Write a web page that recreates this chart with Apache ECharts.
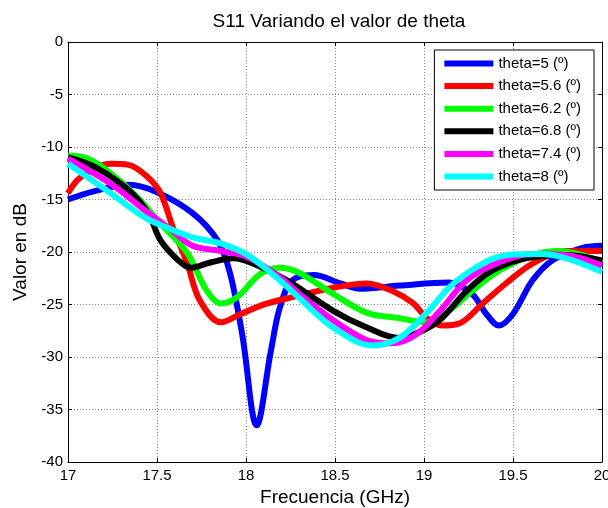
<!DOCTYPE html>
<html><head><meta charset="utf-8">
<script src="https://cdn.jsdelivr.net/npm/echarts@6/dist/echarts.min.js"></script>
<style>html,body{margin:0;padding:0;background:#fff}#c{width:608px;height:508px}</style>
</head><body><div id="c"></div>
<script>
var seriesNames = ['theta=5 (º)','theta=5.6 (º)','theta=6.2 (º)','theta=6.8 (º)','theta=7.4 (º)','theta=8 (º)'];
var seriesColors = ['#0000ff','#ff0000','#00ff00','#000000','#ff00ff','#00ffff'];

var freq5 = [17.0,17.15,17.34,17.5,17.7,17.84,17.91,17.98,18.06,18.14,18.19,18.26,18.38,18.53,18.64,18.86,19.14,19.27,19.35,19.42,19.5,19.61,19.72,19.89,20.0];
var s11_5 = [-15,-14.2,-13.6,-14.3,-16.3,-18.9,-22,-28,-36.5,-29.4,-25.3,-22.7,-22.2,-23.0,-23.5,-23.2,-22.9,-24.0,-25.9,-27.0,-25.9,-22.7,-20.8,-19.6,-19.4];

var freq56 = [17.0,17.07,17.24,17.34,17.45,17.52,17.59,17.67,17.74,17.86,17.97,18.12,18.26,18.49,18.68,18.82,18.94,19.01,19.1,19.2,19.33,19.46,19.61,19.8,20.0];
var s11_56 = [-14.4,-12.9,-11.6,-11.7,-12.9,-14.4,-17.7,-21.1,-24.6,-26.7,-25.9,-24.9,-24.3,-23.4,-23.0,-23.7,-24.9,-26.2,-27.0,-26.8,-24.9,-23.0,-21.1,-19.9,-19.9];

var freq62 = [17.0,17.11,17.24,17.39,17.52,17.67,17.78,17.86,17.95,18.08,18.19,18.3,18.49,18.68,18.86,19.01,19.14,19.27,19.42,19.61,19.76,19.89,20.0];
var s11_62 = [-10.8,-11.1,-12.5,-14.8,-17.3,-20.1,-23.7,-24.9,-24.3,-22.1,-21.5,-22.0,-24.0,-25.8,-26.3,-26.7,-25.6,-23.7,-21.8,-20.3,-19.9,-20.3,-21.0];

var freq68 = [17.0,17.15,17.34,17.45,17.52,17.62,17.69,17.8,17.93,18.04,18.23,18.49,18.68,18.86,18.99,19.1,19.24,19.38,19.57,19.8,20.0];
var s11_68 = [-11.0,-11.9,-14.1,-16.3,-18.9,-20.8,-21.5,-21.0,-20.6,-21.1,-22.7,-25.6,-27.2,-28.2,-27.5,-26.3,-23.7,-21.8,-20.6,-20.3,-20.8];

var freq74 = [17.0,17.24,17.43,17.58,17.7,17.86,18.01,18.19,18.3,18.49,18.68,18.82,18.96,19.09,19.24,19.42,19.61,19.8,20.0];
var s11_74 = [-11.1,-13.5,-16.0,-17.9,-19.4,-19.9,-20.5,-22.4,-24.0,-26.5,-28.4,-28.7,-27.8,-25.6,-22.7,-21.0,-20.2,-20.3,-21.3];

var freq8 = [17.0,17.24,17.43,17.56,17.7,17.86,18.01,18.19,18.3,18.49,18.71,18.86,19.01,19.14,19.29,19.46,19.65,19.8,20.0];
var s11_8 = [-11.6,-14.4,-16.7,-17.7,-18.6,-19.2,-20.3,-22.7,-24.4,-27.2,-28.9,-28.2,-25.9,-23.4,-21.5,-20.3,-20.2,-20.6,-21.9];

var freqs = [freq5,freq56,freq62,freq68,freq74,freq8];
var vals = [s11_5,s11_56,s11_62,s11_68,s11_74,s11_8];

var FONT = 'Liberation Sans, Arial, sans-serif';
var chart = echarts.init(document.getElementById('c'), null, {renderer:'canvas'});

var series = seriesNames.map(function(n,i){
  return {
    name: n, type: 'line', smooth: 0.35, showSymbol: false, symbol: 'none',
    xAxisIndex: 0, yAxisIndex: 0,
    data: freqs[i].map(function(f,j){ return [f, vals[i][j]]; }),
    lineStyle: {color: seriesColors[i], width: 6},
    itemStyle: {color: seriesColors[i]},
    z: 2 + i, animation: false
  };
});

var gridLine = {show:true, lineStyle:{color:'#888', type:[1,2], width:1}};
var axLine = {show:true, onZero:false, lineStyle:{color:'#000', width:1}};
var tick = {show:true, inside:true, length:4, lineStyle:{color:'#000'}};

chart.setOption({
  backgroundColor: '#fff',
  animation: false,
  title: {text: 'S11 Variando el valor de theta', left: 334, top: 7, textAlign: 'center',
    textStyle: {fontFamily: FONT, fontSize: 19, fontWeight: 'normal', color: '#000'}},
  grid: {left: 68, right: 6, top: 42, bottom: 46, containLabel: false, outerBoundsMode: 'none'},
  legend: {
    right: 14, top: 50, orient: 'vertical',
    backgroundColor: '#fff', borderColor: '#000', borderWidth: 1,
    padding: [6, 13, 6, 10], itemGap: 7.6,
    itemWidth: 49, itemHeight: 6, icon: 'rect',
    textStyle: {fontFamily: FONT, fontSize: 15, color: '#000', lineHeight: 15},
    data: seriesNames.map(function(n,i){ return {name:n, itemStyle:{color:seriesColors[i]}}; })
  },
  xAxis: [
    {type:'value', min:17, max:20, interval:0.5, position:'bottom',
     name:'Frecuencia (GHz)', nameLocation:'middle', nameGap: 20,
     nameTextStyle:{fontFamily:FONT, fontSize:19, color:'#000'},
     axisLine: axLine, axisTick: tick,
     axisLabel:{fontFamily:FONT, fontSize:15, color:'#000', margin:6, showMaxLabel:true, showMinLabel:true,
       formatter:function(v){return String(Math.round(v*10)/10);}},
     splitLine: gridLine},
    {type:'value', min:17, max:20, interval:0.5, position:'top',
     axisLine: axLine, axisTick: tick,
     axisLabel:{show:false}, splitLine:{show:false}}
  ],
  yAxis: [
    {type:'value', min:-40, max:0, interval:5, position:'left',
     name:'Valor en dB', nameLocation:'middle', nameGap: 33, nameRotate: 90,
     nameTextStyle:{fontFamily:FONT, fontSize:19, color:'#000'},
     axisLine: axLine, axisTick: tick,
     axisLabel:{fontFamily:FONT, fontSize:15, color:'#000', margin:5},
     splitLine: gridLine},
    {type:'value', min:-40, max:0, interval:5, position:'right',
     axisLine: axLine, axisTick: tick,
     axisLabel:{show:false}, splitLine:{show:false}}
  ],
  series: series
});
</script>
</body></html>
